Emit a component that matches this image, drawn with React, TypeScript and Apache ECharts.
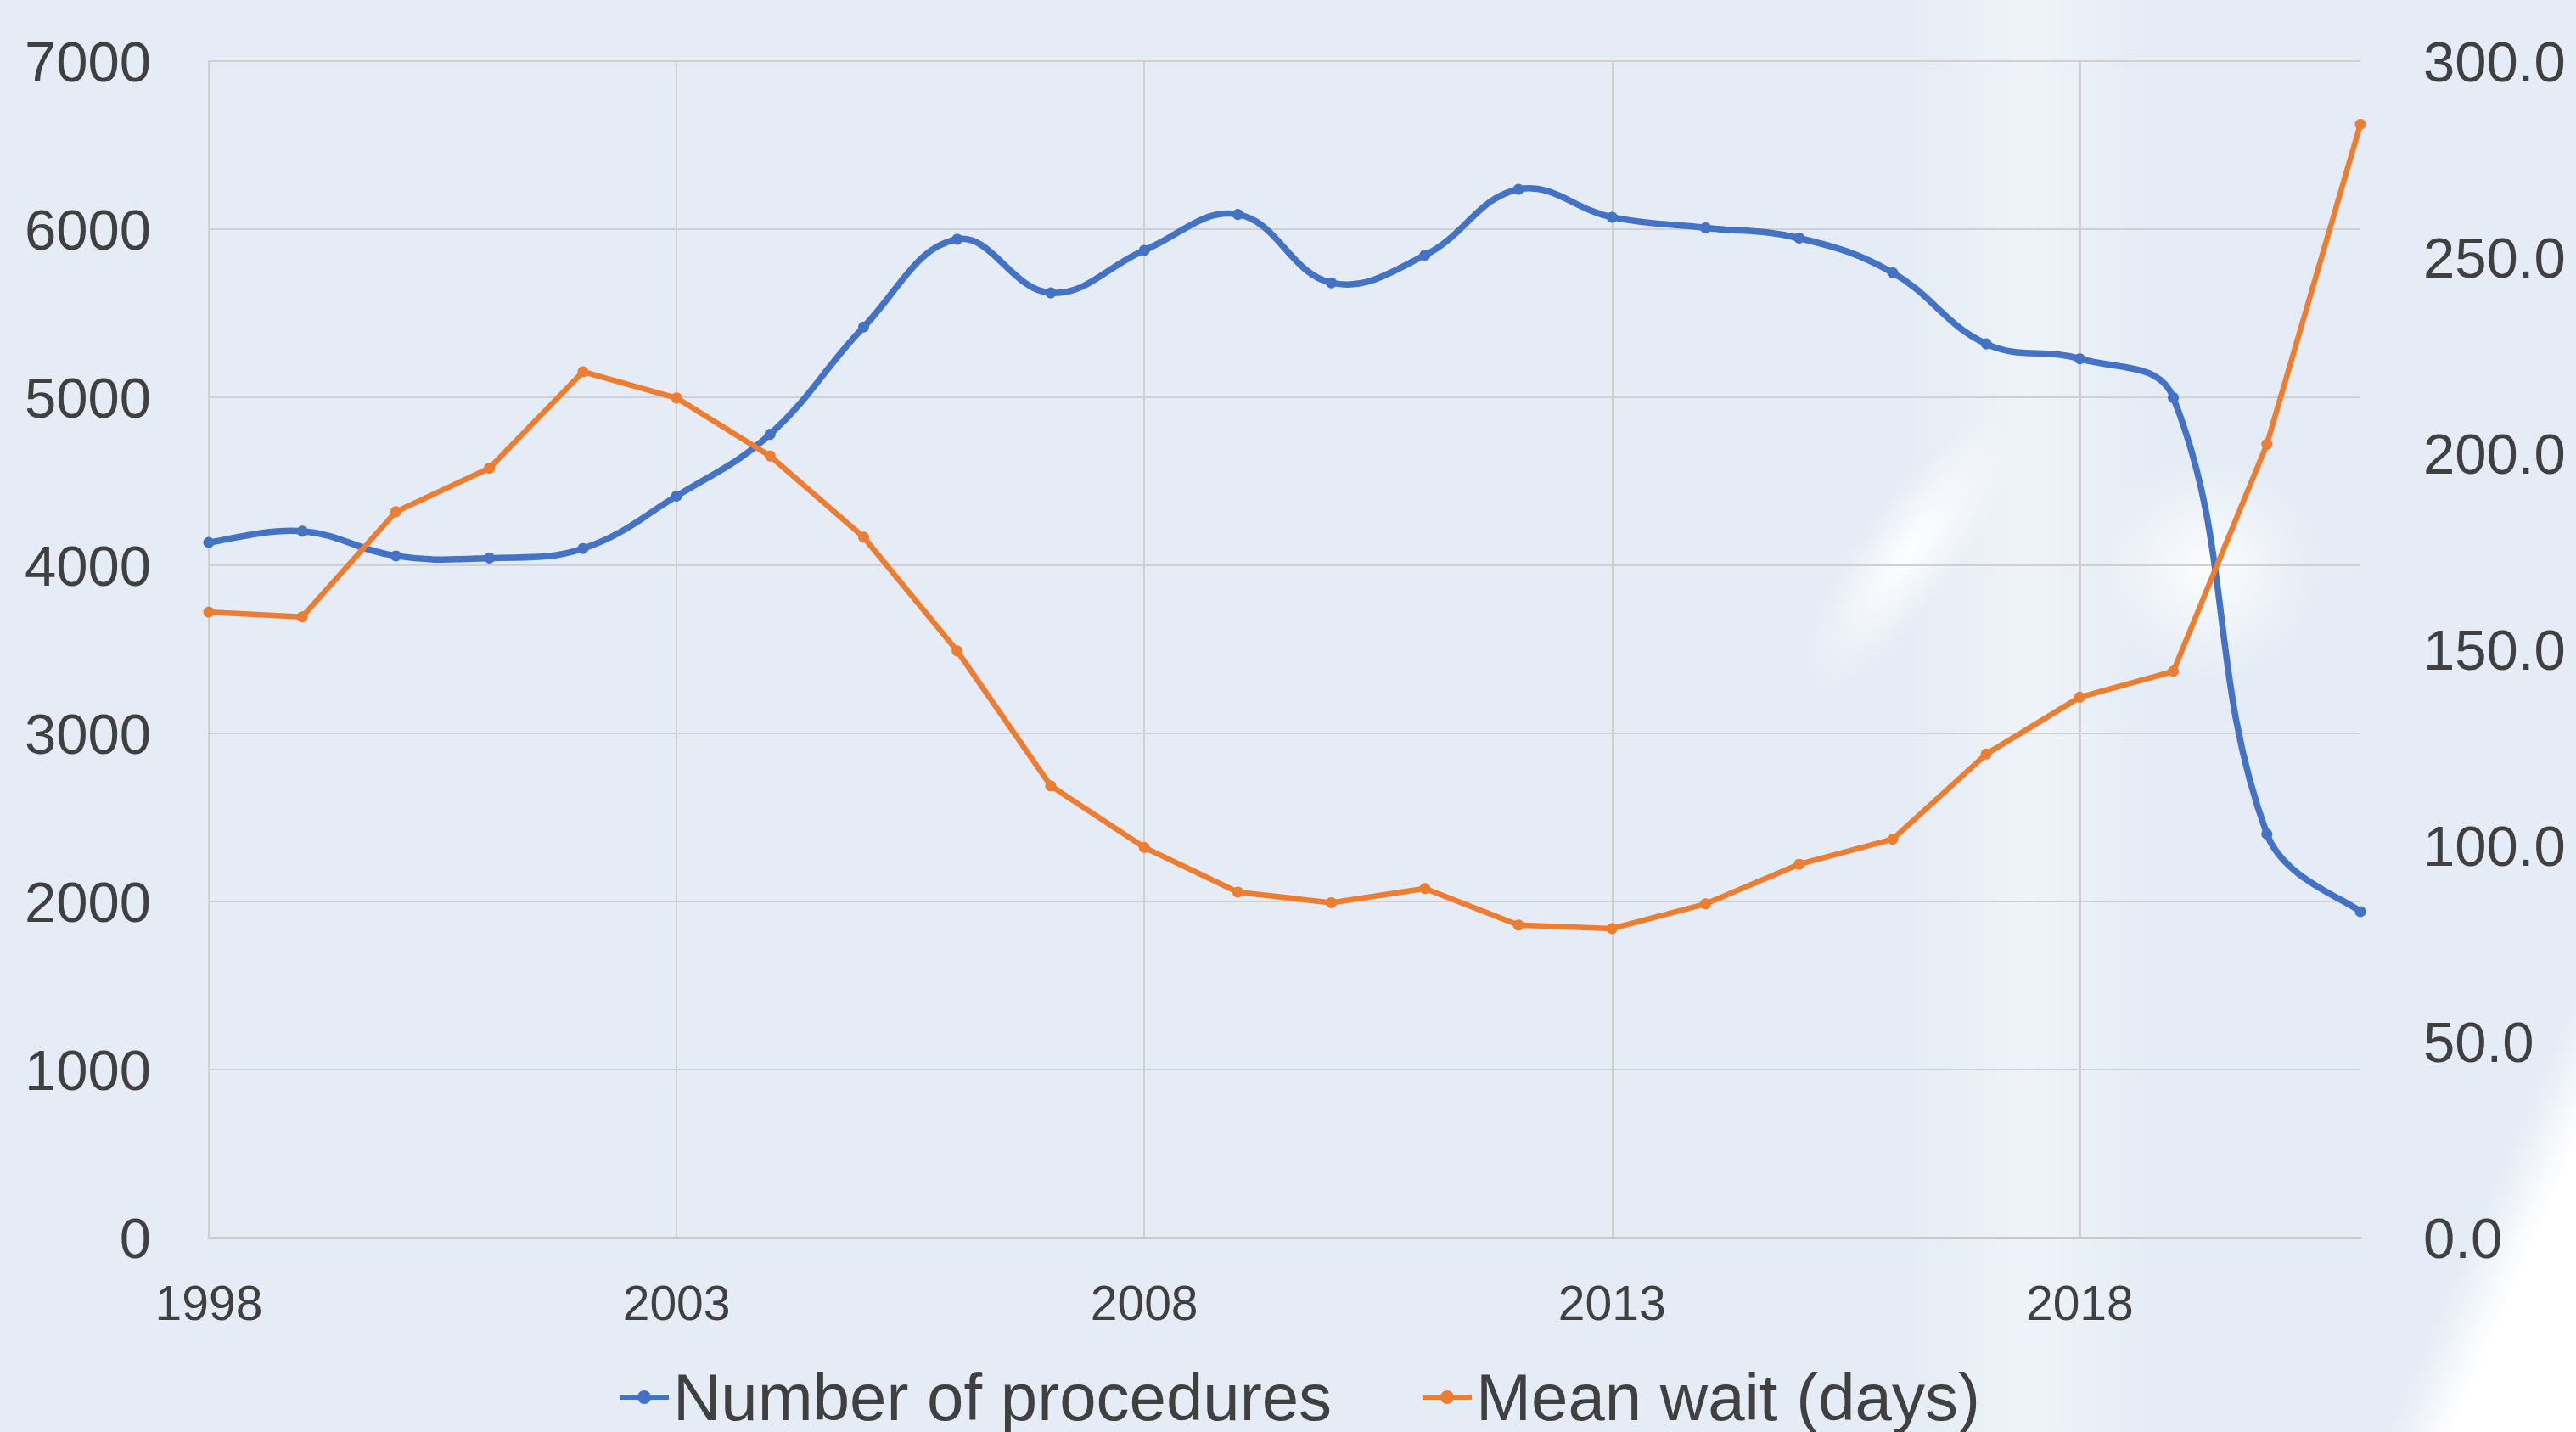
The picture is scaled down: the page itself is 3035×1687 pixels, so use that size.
import React, { useEffect, useRef } from "react";
import * as echarts from "echarts";

const years = ["1998","1999","2000","2001","2002","2003","2004","2005","2006","2007","2008","2009","2010","2011","2012","2013","2014","2015","2016","2017","2018","2019","2020","2021"];
const procedures = [4136, 4203, 4056, 4043, 4100, 4412, 4780, 5418, 5940, 5621, 5874, 6088, 5681, 5845, 6237, 6071, 6008, 5947, 5741, 5318, 5229, 4998, 2402, 1940];
const meanWait = [159.5, 158.3, 185.1, 196.2, 220.8, 214.1, 199.3, 178.6, 149.6, 115.2, 99.5, 88.1, 85.4, 89.0, 79.7, 78.8, 85.1, 95.2, 101.6, 123.3, 137.8, 144.4, 202.3, 283.9];
const seriesNames = ["Number of procedures", "Mean wait (days)"];

const FONT = "'Liberation Sans', Arial, sans-serif";
const TEXT = "#404040";
const BLUE = "#4472C4";
const ORANGE = "#ED7D31";

export default function App() {
  const ref = useRef<HTMLDivElement>(null);
  useEffect(() => {
    if (!ref.current) return;
    const chart = echarts.init(ref.current, null, { renderer: "svg" });
    const radial = (a: number) =>
      new echarts.graphic.RadialGradient(0.5, 0.5, 0.5, [
        { offset: 0, color: `rgba(255,255,255,${a})` },
        { offset: 1, color: "rgba(255,255,255,0)" },
      ]);
    chart.setOption({
      animation: false,
      backgroundColor: "#E5ECF5",
      textStyle: { fontFamily: FONT },
      graphic: [
        {
          type: "rect", z: -10, silent: true,
          shape: { x: 2250, y: 0, width: 280, height: 1687 },
          style: {
            fill: new echarts.graphic.LinearGradient(0, 0, 1, 0, [
              { offset: 0, color: "rgba(255,255,255,0)" },
              { offset: 0.5, color: "rgba(255,255,255,0.4)" },
              { offset: 1, color: "rgba(255,255,255,0)" },
            ]),
          },
        },
        {
          type: "ellipse", z: -9, silent: true,
          x: 2250, y: 650, rotation: 0.95,
          shape: { cx: 0, cy: 0, rx: 190, ry: 60 },
          style: { fill: radial(0.95) },
        },
        {
          type: "circle", z: -9, silent: true,
          shape: { cx: 2600, cy: 670, r: 130 },
          style: { fill: radial(0.85) },
        },
        {
          type: "polygon", z: -8, silent: true,
          shape: { points: [[3035, 1180], [2790, 1687], [3035, 1687]] },
          style: {
            fill: new echarts.graphic.LinearGradient(2900, 1485, 2965, 1513, [
              { offset: 0, color: "rgba(255,255,255,0)" },
              { offset: 1, color: "rgba(255,255,255,1)" },
            ], true),
          },
        },
      ],
      grid: { left: 246, right: 254, top: 72, bottom: 229, containLabel: false },
      legend: {
        data: [
          { name: seriesNames[0], lineStyle: { opacity: 1, color: BLUE, width: 6 } },
          { name: seriesNames[1], lineStyle: { opacity: 1, color: ORANGE, width: 6 } },
        ],
        left: 722,
        top: 1602,
        itemWidth: 58,
        itemHeight: 20,
        itemGap: 104,
        textStyle: { fontSize: 78, color: TEXT, fontFamily: FONT },
      },
      xAxis: {
        type: "category",
        data: years,
        boundaryGap: false,
        axisLine: { show: true, lineStyle: { color: "#CACACA", width: 3 } },
        axisTick: { show: false },
        axisLabel: { interval: 4, fontSize: 57, color: TEXT, margin: 48, fontFamily: FONT },
        splitLine: { show: true, interval: 4, lineStyle: { color: "#D0D0D0", width: 2 } },
      },
      yAxis: [
        {
          type: "value", min: 0, max: 7000, interval: 1000,
          axisLine: { show: false }, axisTick: { show: false },
          axisLabel: { fontSize: 67, color: TEXT, margin: 68, fontFamily: FONT, formatter: (v: number) => String(v) },
          splitLine: { show: true, lineStyle: { color: "#D0D0D0", width: 2 } },
        },
        {
          type: "value", min: 0, max: 300, interval: 50, position: "right",
          axisLine: { show: false }, axisTick: { show: false },
          axisLabel: { fontSize: 67, color: TEXT, margin: 74, fontFamily: FONT, formatter: (v: number) => v.toFixed(1) },
          splitLine: { show: false },
        },
      ],
      series: [
        {
          type: "custom",
          name: "procedures-curve",
          yAxisIndex: 0,
          data: procedures.map((v, i) => [i, v]),
          encode: { x: 0, y: 1 },
          silent: true,
          z: 2,
          renderItem: (params: any, api: any) => {
            if (params.dataIndex !== 0) return null;
            const pts = procedures.map((v, i) => api.coord([i, v]));
            const n = pts.length;
            const dist = (a: number[], b: number[]) => Math.hypot(b[0] - a[0], b[1] - a[1]);
            const F = 0.4;
            let d = `M${pts[0][0]},${pts[0][1]}`;
            for (let i = 0; i < n - 1; i++) {
              const p1 = pts[i];
              const p2 = pts[i + 1];
              const d12 = dist(p1, p2);
              let c1x: number, c1y: number, c2x: number, c2y: number;
              if (i === 0) {
                c1x = p1[0] + (p2[0] - p1[0]) / 6;
                c1y = p1[1] + (p2[1] - p1[1]) / 6;
              } else {
                const p0 = pts[i - 1];
                const r = d12 / (dist(p0, p1) + d12);
                c1x = p1[0] + (p2[0] - p0[0]) * F * r;
                c1y = p1[1] + (p2[1] - p0[1]) * F * r;
              }
              if (i + 2 > n - 1) {
                c2x = p2[0] - (p2[0] - p1[0]) / 6;
                c2y = p2[1] - (p2[1] - p1[1]) / 6;
              } else {
                const p3 = pts[i + 2];
                const r = d12 / (d12 + dist(p2, p3));
                c2x = p2[0] - (p3[0] - p1[0]) * F * r;
                c2y = p2[1] - (p3[1] - p1[1]) * F * r;
              }
              d += ` C${c1x},${c1y} ${c2x},${c2y} ${p2[0]},${p2[1]}`;
            }
            return {
              type: "path",
              shape: { pathData: d },
              style: { stroke: BLUE, lineWidth: 7.5, fill: "none", lineJoin: "round", lineCap: "round" },
            };
          },
        },
        {
          name: seriesNames[0], type: "line", yAxisIndex: 0, data: procedures,
          symbol: "circle", symbolSize: 13,
          lineStyle: { color: BLUE, width: 7.5, opacity: 0 }, itemStyle: { color: BLUE },
          z: 3,
        },
        {
          name: seriesNames[1], type: "line", yAxisIndex: 1, data: meanWait,
          smooth: false, symbol: "circle", symbolSize: 13,
          lineStyle: { color: ORANGE, width: 6.5 }, itemStyle: { color: ORANGE },
          z: 4,
        },
      ],
    });
    return () => chart.dispose();
  }, []);
  return <div ref={ref} style={{ position: "fixed", left: 0, top: 0, width: 3035, height: 1687 }} />;
}
